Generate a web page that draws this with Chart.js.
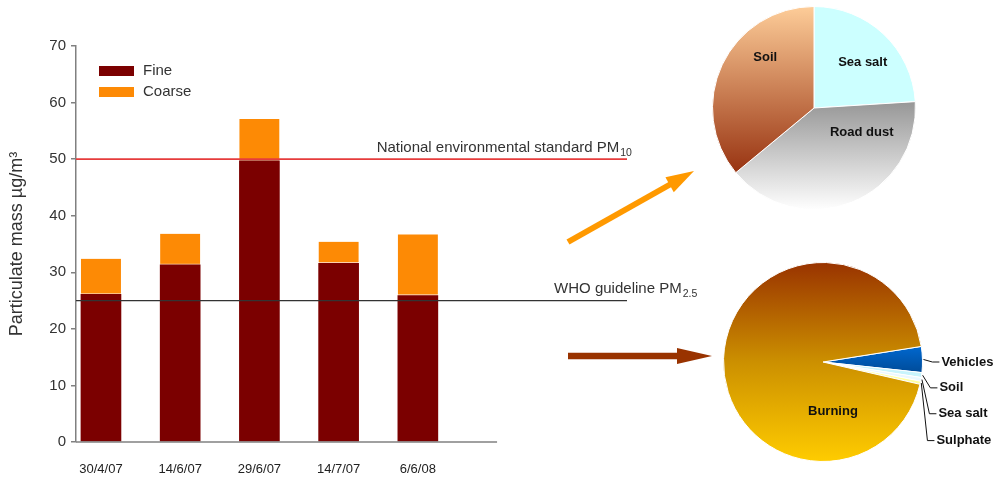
<!DOCTYPE html>
<html>
<head>
<meta charset="utf-8">
<script src="https://cdn.jsdelivr.net/npm/chart.js@4/dist/chart.umd.min.js"></script>
<style>
  html, body { margin: 0; padding: 0; background: #fff; }
  #stage { position: relative; width: 994px; height: 480px; overflow: hidden; }
  #stage canvas { position: absolute; }
</style>
</head>
<body>
<div id="stage">
  <canvas id="bars" width="994" height="480" style="left:0;top:0"></canvas>
  <canvas id="coarsePie" width="214" height="214" style="left:707px;top:1px"></canvas>
  <canvas id="finePie" width="276" height="210" style="left:718px;top:257px"></canvas>
</div>
<script>
// Sampling dates and particulate mass (µg/m³)
const dates = ['30/4/07', '14/6/07', '29/6/07', '14/7/07', '6/6/08'];
const fine = [26.1, 31.3, 49.7, 31.6, 25.9];
const coarse = [6.3, 5.5, 7.4, 3.8, 10.8];
const yTicks = [0, 10, 20, 30, 40, 50, 60, 70];

// Reference levels
const pm10Standard = 50;
const pm25Guideline = 25;

// Source apportionment of the coarse fraction (%)
const coarseSources = ['Sea salt', 'Road dust', 'Soil'];
const coarseShares = [24, 40, 36];

// Source apportionment of the fine fraction (%)
const fineSources = ['Vehicles', 'Soil', 'Sea salt', 'Sulphate', 'Burning'];
const fineShares = [4.2, 0.8, 0.6, 0.5, 93.9];

const FONT = 'Arial, "Liberation Sans", Helvetica, sans-serif';
Chart.defaults.font.family = FONT;
Chart.defaults.animation = false;

// ---------- bar chart ----------
const guides = [
  { value: pm10Standard, color: 'rgb(230, 60, 60)', width: 1.6, text: 'National environmental standard PM', sub: '10', at: 3.48, lift: 7 },
  { value: pm25Guideline, color: '#333333', width: 1.2, text: 'WHO guideline PM', sub: '2.5', at: 5.72, lift: 8 }
];

const guidePlugin = {
  id: 'guides',
  afterDatasetsDraw(chart) {
    const { ctx, chartArea, scales: { x, y } } = chart;
    ctx.save();
    // x axis line, running just past the last sample
    ctx.strokeStyle = '#808080';
    ctx.lineWidth = 1.5;
    ctx.beginPath();
    const y0 = y.getPixelForValue(0);
    ctx.moveTo(chartArea.left, y0);
    ctx.lineTo(x.getPixelForValue(dates.length), y0);
    ctx.stroke();

    guides.forEach(g => {
      const py = y.getPixelForValue(g.value);
      ctx.beginPath();
      ctx.strokeStyle = g.color;
      ctx.lineWidth = g.width;
      ctx.moveTo(chartArea.left, py);
      ctx.lineTo(chartArea.right, py);
      ctx.stroke();
      const tx = x.getPixelForValue(g.at);
      ctx.fillStyle = '#333';
      ctx.textBaseline = 'alphabetic';
      ctx.font = '15px ' + FONT;
      ctx.fillText(g.text, tx, py - g.lift);
      const w = ctx.measureText(g.text).width;
      ctx.font = '10.5px ' + FONT;
      ctx.fillText(g.sub, tx + w + 1, py - g.lift + 4);
    });
    ctx.restore();
  }
};

const legendPlugin = {
  id: 'boxLegend',
  afterDraw(chart) {
    const { ctx, chartArea } = chart;
    ctx.save();
    chart.data.datasets.forEach((ds, i) => {
      const bx = chartArea.left + 23;
      const by = chartArea.top + 20 + i * 21;
      ctx.fillStyle = ds.backgroundColor;
      ctx.fillRect(bx, by, 35, 10);
      ctx.fillStyle = '#333';
      ctx.font = '15px ' + FONT;
      ctx.textBaseline = 'middle';
      ctx.fillText(ds.label, bx + 44, by + 5);
    });
    ctx.restore();
  }
};

// arrows leading from the bars to the source pies
const arrows = [
  { from: [568, 242], to: [694, 171], color: '#ff9900', shaft: 6, head: 28, half: 8.5 },
  { from: [568, 356], to: [712, 356], color: '#993300', shaft: 6.5, head: 35, half: 8 }
];
const arrowPlugin = {
  id: 'arrows',
  afterDraw(chart) {
    const { ctx } = chart;
    ctx.save();
    arrows.forEach(a => {
      const [x1, y1] = a.from, [x2, y2] = a.to;
      const ang = Math.atan2(y2 - y1, x2 - x1);
      const bx = x2 - a.head * Math.cos(ang), by = y2 - a.head * Math.sin(ang);
      ctx.strokeStyle = a.color;
      ctx.lineWidth = a.shaft;
      ctx.lineCap = 'butt';
      ctx.beginPath();
      ctx.moveTo(x1, y1);
      ctx.lineTo(bx + Math.cos(ang), by + Math.sin(ang));
      ctx.stroke();
      ctx.fillStyle = a.color;
      ctx.beginPath();
      ctx.moveTo(x2, y2);
      ctx.lineTo(bx - a.half * Math.sin(ang), by + a.half * Math.cos(ang));
      ctx.lineTo(bx + a.half * Math.sin(ang), by - a.half * Math.cos(ang));
      ctx.closePath();
      ctx.fill();
    });
    ctx.restore();
  }
};

new Chart(document.getElementById('bars'), {
  type: 'bar',
  data: {
    datasets: [
      {
        label: 'Fine',
        data: fine.map((v, i) => ({ x: i, y: v })),
        backgroundColor: '#7b0000',
        barThickness: 40,
        borderWidth: 0
      },
      {
        label: 'Coarse',
        data: coarse.map((v, i) => ({ x: i, y: v })),
        backgroundColor: '#fd8a05',
        borderColor: '#fbd2ad',
        borderWidth: { top: 0, left: 0, right: 0, bottom: 1.5 },
        borderSkipped: false,
        barThickness: 40
      }
    ]
  },
  options: {
    responsive: false,
    devicePixelRatio: 1,
    layout: { padding: { top: 46, right: 367, left: 0, bottom: 0 } },
    plugins: { legend: { display: false }, tooltip: { enabled: false } },
    scales: {
      x: {
        type: 'linear',
        stacked: true,
        offset: false,
        min: -0.315,
        max: 6.64,
        grid: { display: false, drawTicks: false, offset: false },
        border: { display: false },
        afterBuildTicks: s => { s.ticks = dates.map((d, i) => ({ value: i })); },
        afterFit: s => { s.height = 38; },
        ticks: {
          autoSkip: false,
          maxRotation: 0,
          padding: 20,
          color: '#222',
          font: { size: 13 },
          callback: v => dates[v]
        }
      },
      y: {
        stacked: true,
        min: yTicks[0],
        max: yTicks[yTicks.length - 1],
        afterBuildTicks: s => { s.ticks = yTicks.map(v => ({ value: v })); },
        afterFit: s => { s.width = 76; },
        grid: { drawOnChartArea: false, drawTicks: true, tickLength: 5, color: '#808080', lineWidth: 1.5 },
        border: { color: '#808080', width: 1.5 },
        ticks: { color: '#333', font: { size: 15 }, padding: 5 },
        title: {
          display: true,
          text: 'Particulate mass µg/m³',
          color: '#333',
          font: { size: 18 },
          padding: { top: 6, bottom: 0 }
        }
      }
    }
  },
  plugins: [guidePlugin, legendPlugin, arrowPlugin]
});

// ---------- pies ----------
function vGradient(chart, stops, from, to) {
  const area = chart.chartArea;
  if (!area) return stops[0][1];
  const cy = (area.top + area.bottom) / 2;
  const r = Math.min(area.width, area.height) / 2;
  const g = chart.ctx.createLinearGradient(0, cy + from * r, 0, cy + to * r);
  stops.forEach(([o, c]) => g.addColorStop(o, c));
  return g;
}

// label text placed inside slices, offsets in units of the radius
function pieLabelPlugin(inner, outer) {
  return {
    id: 'pieLabels',
    afterDatasetsDraw(chart) {
      const { ctx } = chart;
      const arcs = chart.getDatasetMeta(0).data;
      const labels = chart.data.labels;
      ctx.save();
      ctx.font = 'bold 13px ' + FONT;
      ctx.fillStyle = '#111';
      ctx.textBaseline = 'middle';
      arcs.forEach((arc, i) => {
        const name = labels[i];
        const cx = arc.x, cy = arc.y, r = arc.outerRadius;
        if (inner[name]) {
          const [fx, fy] = inner[name];
          ctx.textAlign = 'center';
          ctx.fillText(name, cx + fx * r, cy + fy * r);
        } else if (outer && outer[name]) {
          const [fx, fy] = outer[name];
          const mid = (arc.startAngle + arc.endAngle) / 2;
          const sx = cx + Math.cos(mid) * (r + 1), sy = cy + Math.sin(mid) * (r + 1);
          const lx = cx + fx * r, ly = cy + fy * r;
          ctx.strokeStyle = '#111';
          ctx.lineWidth = 1;
          ctx.beginPath();
          ctx.moveTo(sx, sy);
          ctx.lineTo(lx - 9, ly);
          ctx.lineTo(lx - 2, ly);
          ctx.stroke();
          ctx.textAlign = 'left';
          ctx.fillText(name, lx, ly);
        }
      });
      ctx.restore();
    }
  };
}

const coarseFills = {
  'Sea salt': () => '#ccffff',
  'Road dust': c => vGradient(c, [[0, '#969696'], [1, '#ffffff']], -0.07, 1),
  'Soil': c => vGradient(c, [[0, '#fdcc98'], [1, '#973210']], -0.99, 0.65)
};

new Chart(document.getElementById('coarsePie'), {
  type: 'pie',
  data: {
    labels: coarseSources,
    datasets: [{
      data: coarseShares,
      backgroundColor: ctx => coarseFills[coarseSources[ctx.dataIndex]](ctx.chart),
      borderColor: '#ffffff',
      borderWidth: 1
    }]
  },
  options: {
    responsive: false,
    devicePixelRatio: 1,
    rotation: 0,
    layout: { padding: 5 },
    plugins: { legend: { display: false }, tooltip: { enabled: false } }
  },
  plugins: [pieLabelPlugin({
    'Soil': [-0.48, -0.5],
    'Sea salt': [0.48, -0.45],
    'Road dust': [0.47, 0.245]
  })]
});

const fineFills = {
  'Vehicles': c => vGradient(c, [[0, '#0068d0'], [1, '#004a96']], -0.16, 0.12),
  'Soil': () => '#c8f4fc',
  'Sea salt': () => '#eaf8ff',
  'Sulphate': () => '#ffffa0',
  'Burning': c => vGradient(c, [[0, '#993300'], [0.5, '#cc9000'], [1, '#ffcc00']], -1, 1)
};

new Chart(document.getElementById('finePie'), {
  type: 'pie',
  data: {
    labels: fineSources,
    datasets: [{
      data: fineShares,
      backgroundColor: ctx => fineFills[fineSources[ctx.dataIndex]](ctx.chart),
      borderColor: '#ffffff',
      borderWidth: 1
    }]
  },
  options: {
    responsive: false,
    devicePixelRatio: 1,
    rotation: 81,
    layout: { padding: { left: 5, top: 5, bottom: 5, right: 71 } },
    plugins: { legend: { display: false }, tooltip: { enabled: false } }
  },
  plugins: [pieLabelPlugin(
    { 'Burning': [0.1, 0.5] },
    {
      'Vehicles': [1.19, 0.0],
      'Soil': [1.17, 0.26],
      'Sea salt': [1.16, 0.52],
      'Sulphate': [1.14, 0.79]
    }
  )]
});
</script>
</body>
</html>
